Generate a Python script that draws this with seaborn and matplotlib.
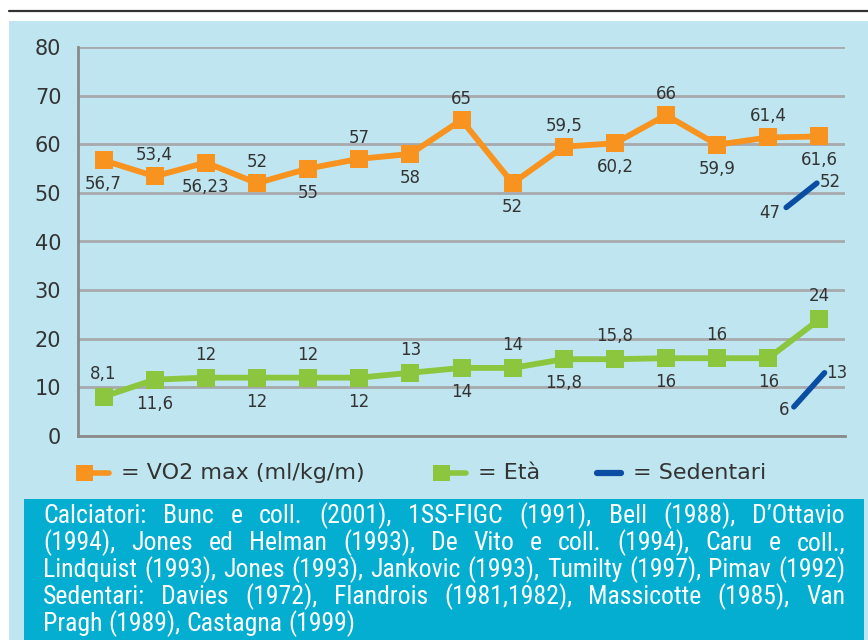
import numpy as np
import pandas as pd
import matplotlib
matplotlib.use("Agg")
import matplotlib.pyplot as plt
import seaborn as sns
from matplotlib import font_manager
from matplotlib.lines import Line2D
from matplotlib.patches import Rectangle

# ---- data -------------------------------------------------------------
studies = [f"S{i + 1}" for i in range(15)]
vo2_values = [56.7, 53.4, 56.23, 52, 55, 57, 58, 65, 52, 59.5, 60.2, 66, 59.9, 61.4, 61.6]
eta_values = [8.1, 11.6, 12, 12, 12, 12, 13, 14, 14, 15.8, 15.8, 16, 16, 16, 24]
sed_vo2_values = [47, 52]
sed_eta_values = [6, 13]
sed_vo2_pos = [13.35, 13.95]
sed_eta_pos = [13.5, 14.1]
y_ticks = [0, 10, 20, 30, 40, 50, 60, 70, 80]
legend_labels = ["= VO2 max (ml/kg/m)", "= Età", "= Sedentari"]
note_lines = [
    "Calciatori: Bunc e coll. (2001), 1SS-FIGC (1991), Bell (1988), D\u2019Ottavio",
    "(1994), Jones ed Helman (1993), De Vito e coll. (1994), Caru e coll.,",
    "Lindquist (1993), Jones (1993), Jankovic (1993), Tumilty (1997), Pimav (1992)",
    "Sedentari: Davies (1972), Flandrois (1981,1982), Massicotte (1985), Van",
    "Pragh (1989), Castagna (1999)",
]

# ---- style ------------------------------------------------------------
ORANGE = "#F7931E"
GREEN = "#8CC63F"
BLUE = "#0B4DA2"
PANEL = "#BFE6F0"
TEAL = "#04AED0"
GRID = "#A7A9AC"
AXIS = "#8A8A8A"
TXT = "#333333"

sns.set_theme(style="white")
plt.rcParams["font.family"] = ["DejaVu Sans"]

W, H = 868, 640
fig = plt.figure(figsize=(W / 100, H / 100), dpi=100)
fig.patch.set_facecolor("white")


def fx(px):
    return px / W


def fy(py):
    return 1 - py / H


# background panel, top rule and note box
fig.add_artist(Rectangle((fx(9), fy(640)), fx(868 - 9), (640 - 21) / H,
                         transform=fig.transFigure, facecolor=PANEL,
                         edgecolor="none", zorder=0))
fig.add_artist(Line2D([fx(9), fx(868)], [fy(10.5), fy(10.5)],
                      transform=fig.transFigure, color="#333333", lw=1.6))
fig.add_artist(Rectangle((fx(24), fy(640)), fx(864 - 24), (640 - 499) / H,
                         transform=fig.transFigure, facecolor=TEAL,
                         edgecolor="none", zorder=0.5))

# ---- chart ------------------------------------------------------------
ax = fig.add_axes([fx(78), fy(436), fx(845 - 78), (436 - 47) / H])
ax.patch.set_alpha(0)

pos = np.arange(len(studies))
df = pd.DataFrame({"pos": pos, "vo2": vo2_values, "eta": eta_values})

sns.lineplot(data=df, x="pos", y="vo2", ax=ax, color=ORANGE, lw=4.2,
             marker="s", markersize=12.5, markeredgewidth=0, sort=False,
             zorder=4, clip_on=False)
sns.lineplot(data=df, x="pos", y="eta", ax=ax, color=GREEN, lw=4.2,
             marker="s", markersize=12.5, markeredgewidth=0, sort=False,
             zorder=4, clip_on=False)
sns.lineplot(x=sed_vo2_pos, y=sed_vo2_values, ax=ax, color=BLUE, lw=4,
             solid_capstyle="round", sort=False, zorder=4)
sns.lineplot(x=sed_eta_pos, y=sed_eta_values, ax=ax, color=BLUE, lw=4,
             solid_capstyle="round", sort=False, zorder=4)


def fmt(v):
    return f"{v:g}".replace(".", ",")


LBL = 12
# value labels alternate below/above the markers
for i, v in enumerate(vo2_values):
    dy = -24 if i % 2 == 0 else 21
    ax.annotate(fmt(v), (pos[i], v), xytext=(0, dy), textcoords="offset pixels",
                ha="center", va="center", fontsize=LBL, color=TXT)
for i, v in enumerate(eta_values):
    dy = 23 if i % 2 == 0 else -24
    ax.annotate(fmt(v), (pos[i], v), xytext=(0, dy), textcoords="offset pixels",
                ha="center", va="center", fontsize=LBL, color=TXT)

ax.annotate(fmt(sed_vo2_values[0]), (sed_vo2_pos[0], sed_vo2_values[0]),
            xytext=(-16, -6), textcoords="offset pixels", ha="center",
            va="center", fontsize=LBL, color=TXT)
ax.annotate(fmt(sed_vo2_values[1]), (sed_vo2_pos[1], sed_vo2_values[1]),
            xytext=(13, 1), textcoords="offset pixels", ha="center",
            va="center", fontsize=LBL, color=TXT)
ax.annotate(fmt(sed_eta_values[0]), (sed_eta_pos[0], sed_eta_values[0]),
            xytext=(-10, -3), textcoords="offset pixels", ha="center",
            va="center", fontsize=LBL, color=TXT)
ax.annotate(fmt(sed_eta_values[1]), (sed_eta_pos[1], sed_eta_values[1]),
            xytext=(12, 0), textcoords="offset pixels", ha="center",
            va="center", fontsize=LBL, color=TXT)

ax.set_xlim(-0.5, len(studies) - 0.5)
ax.set_ylim(0, 80)
ax.set_xlabel("")
ax.set_ylabel("")
ax.set_yticks(y_ticks)
ax.set_yticklabels([str(t) for t in y_ticks], fontsize=15, color=TXT)
ax.set_xticks(np.arange(len(studies)) + 0.5)
ax.set_xticklabels([])
ax.tick_params(axis="y", length=0, pad=12)
ax.tick_params(axis="x", direction="in", length=8, width=2, color=AXIS)
ax.yaxis.grid(True, color=GRID, lw=2)
ax.xaxis.grid(False)
ax.set_axisbelow(True)
for side in ("top", "right"):
    ax.spines[side].set_visible(False)
for side in ("left", "bottom"):
    ax.spines[side].set_color(AXIS)
    ax.spines[side].set_linewidth(2)
    ax.spines[side].set_zorder(3)

# ---- legend -----------------------------------------------------------
ly = fy(473)
for x0, color, label, tx in [(76, ORANGE, legend_labels[0], 121),
                             (433, GREEN, legend_labels[1], 478)]:
    fig.add_artist(Line2D([fx(x0 + 10), fx(x0 + 33)], [ly, ly],
                          transform=fig.transFigure, color=color, lw=4,
                          solid_capstyle="round"))
    fig.add_artist(Rectangle((fx(x0), fy(481)), fx(17), 16 / H,
                             transform=fig.transFigure, facecolor=color,
                             edgecolor="none"))
    fig.text(fx(tx), ly, label, ha="left", va="center", fontsize=16, color=TXT)
fig.add_artist(Line2D([fx(597), fx(621)], [ly, ly], transform=fig.transFigure,
                      color=BLUE, lw=4.5, solid_capstyle="round"))
fig.text(fx(633), ly, legend_labels[2], ha="left", va="center", fontsize=16,
         color=TXT)

# ---- justified reference note ----------------------------------------
note_family = "DejaVu Sans"
for fam in ["Roboto Condensed", "Liberation Sans Narrow", "Open Sans Condensed"]:
    try:
        font_manager.findfont(font_manager.FontProperties(family=fam),
                              fallback_to_default=False)
        note_family = fam
        break
    except ValueError:
        pass

renderer = fig.canvas.get_renderer()
left_px, right_px = 43, 845
box_w = right_px - left_px


def width_of(s, fp):
    w, _, _ = renderer.get_text_width_height_descent(s, fp, ismath=False)
    return w


# largest size at which the widest line still fits with plain spaces
size = 22.0
while True:
    fp = font_manager.FontProperties(family=note_family, size=size)
    if max(width_of(l, fp) for l in note_lines) <= box_w or size < 8:
        break
    size -= 0.25

space_w = width_of("a a", fp) - 2 * width_of("a", fp)
baselines = [523, 550, 577, 604, 631]
for k, (line, base) in enumerate(zip(note_lines, baselines)):
    words = line.split(" ")
    widths = [width_of(w, fp) for w in words]
    if k < len(note_lines) - 1 and len(words) > 1:
        gap = (box_w - sum(widths)) / (len(words) - 1)
    else:
        gap = space_w
    x = left_px
    for w, wd in zip(words, widths):
        fig.text(fx(x), fy(base), w, ha="left", va="baseline",
                 fontproperties=fp, color="white")
        x += wd + gap

fig.savefig("out.png", dpi=100, facecolor="white")
